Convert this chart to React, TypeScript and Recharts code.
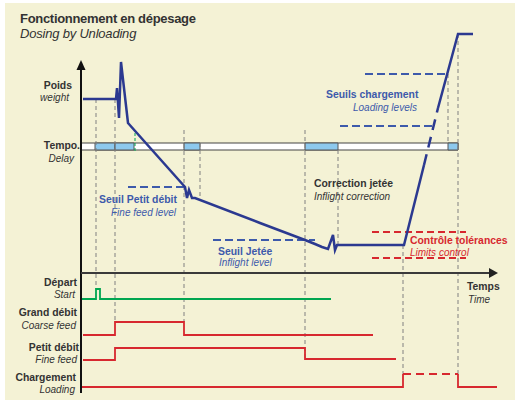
import React from "react"
import { LineChart, Line, XAxis, YAxis, ReferenceArea, ReferenceDot } from "recharts"

type Pt = [number, number]

// t = time along the horizontal axis, v = level above the time axis (signals sit below 0)
const weightCurve: Pt[] = [
  [2, 174], [35, 174], [36, 185], [38, 155], [40, 211], [47, 150],
  [104, 86], [106, 75], [108, 83], [111, 75], [114, 75],
  [179, 50], [224, 33], [234, 29], [241, 26], [247, 24], [252, 38], [254, 23], [256, 28],
  [323, 28], [343, 108],
]
const weightRiseDashed: Pt[] = [[343, 108], [357, 165]]
const weightRiseTop: Pt[] = [[357, 165], [377, 239], [392, 239]]

const loadingLevels = [
  { t0: 284, t1: 365, v: 199 },
  { t0: 259, t1: 352, v: 147 },
]
const fineFeedLevel = { t0: 47, t1: 104, v: 86 }
const inflightLevel = { t0: 132, t1: 234, v: 33 }
const toleranceLimits = [
  { t0: 291, t1: 385, v: 41 },
  { t0: 291, t1: 385, v: 15 },
]

const tempoBar = { t0: 0, t1: 377, v0: 123, v1: 130 }
const tempoDelays: Pt[] = [[14, 34], [34, 53], [103, 119], [224, 257], [367, 377]]
const inflightMark = { t: 54, v0: 122, v1: 142 }

// [time, top, bottom]
const eventMarkers: [number, number, number][] = [
  [15, 174, -16], [34, 174, -49], [103, 143, -49], [119, 130, 75], [224, 143, -86],
  [257, 123, 28], [322, 28, -101], [367, 199, 130], [377, 239, -101],
]

const startSignal: Pt[] = [[1, -26], [15, -26], [15, -16], [19, -16], [19, -26], [250, -26]]
const coarseFeed: Pt[] = [[2, -62], [34, -62], [34, -49], [103, -49], [103, -62], [292, -62]]
const fineFeed: Pt[] = [[2, -87], [34, -87], [34, -75], [224, -75], [224, -86], [315, -86]]
const loadingOff: Pt[] = [[1, -114], [322, -114], [322, -101]]
const loadingOn: Pt[] = [[322, -101], [377, -101]]
const loadingEnd: Pt[] = [[377, -101], [377, -114], [416, -114]]

const weightAxis: Pt[] = [[0, -120], [0, 205]]
const timeAxis: Pt[] = [[0, 0], [409, 0]]
const weightArrow: Pt = [0, 213]
const timeArrow: Pt = [417, 0]

const NAVY = "#2B3990"
const BLUE = "#3D5AAB"
const RED = "#D7282F"
const GREEN = "#00A650"
const DARK = "#333333"
const GREY = "#808080"
const FONT = "'Liberation Sans', Arial, Helvetica, sans-serif"

const toRows = (pts: Pt[]) => pts.map(([t, v]) => ({ t, v }))

const seg = (key: string, pts: Pt[], stroke: string, width: number, dash?: string) => (
  <Line
    key={key}
    data={toRows(pts)}
    dataKey="v"
    type="linear"
    stroke={stroke}
    strokeWidth={width}
    strokeDasharray={dash}
    dot={false}
    activeDot={false}
    isAnimationActive={false}
  />
)

const upArrow = (p: any) => (
  <polygon points={`${p.cx},${p.cy} ${p.cx - 4.5},${p.cy + 10} ${p.cx + 4.5},${p.cy + 10}`} fill="#111" />
)
const rightArrow = (p: any) => (
  <polygon points={`${p.cx},${p.cy} ${p.cx - 9},${p.cy - 5} ${p.cx - 9},${p.cy + 5}`} fill="#222" />
)

type Txt = { x: number; y: number; s: string; bold?: boolean; c?: string; end?: boolean }

const texts: Txt[] = [
  { x: 72, y: 89, s: "Poids", bold: true, end: true },
  { x: 69, y: 101, s: "weight", end: true },
  { x: 80, y: 148.5, s: "Tempo.", bold: true, end: true },
  { x: 74, y: 161.5, s: "Delay", end: true },
  { x: 77, y: 285.5, s: "Départ", bold: true, end: true },
  { x: 75, y: 298, s: "Start", end: true },
  { x: 77, y: 316, s: "Grand débit", bold: true, end: true },
  { x: 76, y: 329, s: "Coarse feed", end: true },
  { x: 79, y: 350.5, s: "Petit débit", bold: true, end: true },
  { x: 77, y: 363, s: "Fine feed", end: true },
  { x: 76, y: 380.5, s: "Chargement", bold: true, end: true },
  { x: 75, y: 393, s: "Loading", end: true },
  { x: 99, y: 203, s: "Seuil Petit débit", bold: true, c: BLUE },
  { x: 111, y: 216, s: "Fine feed level", c: BLUE },
  { x: 218, y: 254.5, s: "Seuil Jetée", bold: true, c: BLUE },
  { x: 219, y: 266, s: "Inflight level", c: BLUE },
  { x: 326, y: 98, s: "Seuils chargement", bold: true, c: BLUE },
  { x: 353, y: 110.5, s: "Loading levels", c: BLUE },
  { x: 314, y: 187, s: "Correction jetée", bold: true },
  { x: 314, y: 199.5, s: "Inflight correction" },
  { x: 410, y: 243.5, s: "Contrôle tolérances", bold: true, c: RED },
  { x: 410, y: 255.5, s: "Limits control", c: RED },
  { x: 467, y: 290, s: "Temps", bold: true },
  { x: 468, y: 303, s: "Time" },
]

export default function App() {
  return (
    <div style={{ position: "absolute", left: 0, top: 0, width: 515, height: 403, background: "#fff" }}>
      <div style={{ position: "absolute", left: 5, top: 3, width: 510, height: 397, background: "#F4F2D5" }} />
      <div style={{ position: "absolute", left: 0, top: 0 }}>
        <LineChart width={515} height={403} margin={{ top: 0, right: 0, bottom: 0, left: 0 }}>
          <XAxis type="number" dataKey="t" domain={[-81, 434]} allowDataOverflow hide />
          <YAxis type="number" domain={[-130, 273]} allowDataOverflow hide />

          {eventMarkers.map(([t, a, b], i) => seg(`ev${i}`, [[t, a], [t, b]], GREY, 1, "4 3"))}

          <ReferenceArea
            x1={tempoBar.t0}
            x2={tempoBar.t1}
            y1={tempoBar.v0}
            y2={tempoBar.v1}
            fill="#fff"
            fillOpacity={1}
            stroke="#444"
            strokeWidth={1}
            isFront
          />
          {tempoDelays.map(([a, b], i) => (
            <ReferenceArea
              key={`td${i}`}
              x1={a}
              x2={b}
              y1={tempoBar.v0}
              y2={tempoBar.v1}
              fill="#8DC9EE"
              fillOpacity={1}
              stroke="#555"
              strokeWidth={1}
              isFront
            />
          ))}
          {seg("inflightMark", [[inflightMark.t, inflightMark.v0], [inflightMark.t, inflightMark.v1]], GREEN, 1, "3 2")}

          {loadingLevels.map((l, i) => seg(`ll${i}`, [[l.t0, l.v], [l.t1, l.v]], BLUE, 2, "8 4"))}
          {seg("ffl", [[fineFeedLevel.t0, fineFeedLevel.v], [fineFeedLevel.t1, fineFeedLevel.v]], BLUE, 2, "8 4")}
          {seg("ifl", [[inflightLevel.t0, inflightLevel.v], [inflightLevel.t1, inflightLevel.v]], BLUE, 2, "8 4")}
          {toleranceLimits.map((l, i) => seg(`tl${i}`, [[l.t0, l.v], [l.t1, l.v]], RED, 2, "7 4"))}

          {seg("weight", weightCurve, NAVY, 2.5)}
          {seg("weightDash", weightRiseDashed, NAVY, 2.5, "11 7")}
          {seg("weightTop", weightRiseTop, NAVY, 2.5)}

          {seg("start", startSignal, GREEN, 1.8)}
          {seg("coarse", coarseFeed, RED, 1.8)}
          {seg("fine", fineFeed, RED, 1.8)}
          {seg("loadOff", loadingOff, RED, 1.8)}
          {seg("loadOn", loadingOn, RED, 2, "8 5")}
          {seg("loadEnd", loadingEnd, RED, 1.8)}

          {seg("yAxis", weightAxis, "#111", 2)}
          {seg("tAxis", timeAxis, "#3a3a3a", 2)}
          <ReferenceDot x={weightArrow[0]} y={weightArrow[1]} r={5} shape={upArrow} isFront />
          <ReferenceDot x={timeArrow[0]} y={timeArrow[1]} r={5} shape={rightArrow} isFront />
        </LineChart>
      </div>
      <svg width={515} height={403} style={{ position: "absolute", left: 0, top: 0, pointerEvents: "none" }}>
        <text x={20} y={23.3} fontFamily={FONT} fontSize={13} fontWeight="bold" letterSpacing={-0.3} fill={DARK}>
          Fonctionnement en dépesage
        </text>
        <text x={20} y={38} fontFamily={FONT} fontSize={13} fontStyle="italic" letterSpacing={-0.2} fill={DARK}>
          Dosing by Unloading
        </text>
        {texts.map((t, i) => (
          <text
            key={i}
            x={t.x}
            y={t.y}
            textAnchor={t.end ? "end" : "start"}
            fontFamily={FONT}
            fontSize={t.bold ? 10.4 : 10}
            fontWeight={t.bold ? "bold" : "normal"}
            fontStyle={t.bold ? "normal" : "italic"}
            fill={t.c || DARK}
          >
            {t.s}
          </text>
        ))}
      </svg>
    </div>
  )
}
